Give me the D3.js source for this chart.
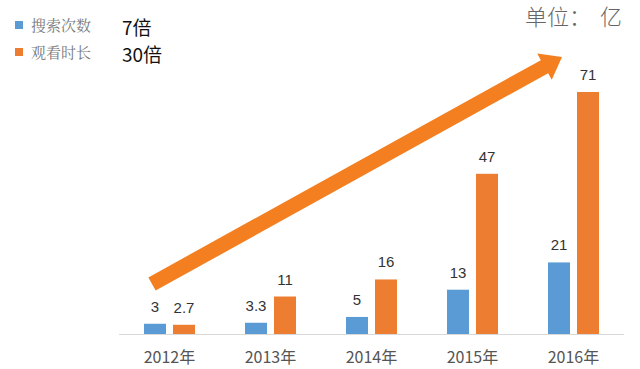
<!DOCTYPE html>
<html><head><meta charset="utf-8">
<script src="https://cdn.jsdelivr.net/npm/d3@7"></script>
<style>body{margin:0;background:#fff}svg{display:block}</style>
</head><body>
<svg id="c" width="640" height="369"></svg>
<script>
const categories = ["2012年","2013年","2014年","2015年","2016年"];
const searchCounts = [3, 3.3, 5, 13, 21];
const watchTime = [2.7, 11, 16, 47, 71];
const seriesNames = ["搜索次数","观看时长"];
const seriesNotes = ["7倍","30倍"];
const colors = ["#5a9bd5","#ed7d31"];

const svg = d3.select("#c");
const baseY = 334;
const x = d3.scaleBand().domain(categories).range([119, 624]).padding(0);
const y = d3.scaleLinear().domain([0, 71]).range([baseY, 92]);
const barW = 22, gap = 7;

svg.append("line").attr("x1",119).attr("x2",624).attr("y1",baseY+0.5).attr("y2",baseY+0.5)
  .attr("stroke","#d9d9d9").attr("stroke-width",1.2);

const font = "'Liberation Sans', Arial, 'Noto Sans CJK SC', sans-serif";
const cjk = "'Noto Sans CJK SC', sans-serif";

const series = [searchCounts, watchTime];
series.forEach((vals, si) => {
  const off = si === 0 ? -(barW + gap/2) : gap/2;
  const g = svg.append("g");
  g.selectAll("rect").data(vals).join("rect")
    .attr("x", (d,i) => x(categories[i]) + x.bandwidth()/2 + off)
    .attr("y", d => y(d))
    .attr("width", barW)
    .attr("height", d => baseY - y(d))
    .attr("fill", colors[si]);
  g.selectAll("text").data(vals).join("text")
    .attr("x", (d,i) => x(categories[i]) + x.bandwidth()/2 + off + barW/2)
    .attr("y", d => y(d) - 12)
    .attr("text-anchor","middle")
    .attr("font-family", font).attr("font-size", 15).attr("fill","#333")
    .text(d => d);
});

svg.append("g").selectAll("text").data(categories).join("text")
  .attr("x", d => x(d) + x.bandwidth()/2)
  .attr("y", 363)
  .attr("text-anchor","middle")
  .attr("font-family", cjk).attr("font-size", 16).attr("fill","#555")
  .text(d => d);

seriesNames.forEach((n, i) => {
  const ly = 28 + i*27;
  svg.append("rect").attr("x",15).attr("y",ly-7).attr("width",8).attr("height",8).attr("fill",colors[i]);
  svg.append("text").attr("x",31).attr("y",ly+3).attr("font-family","'Noto Serif CJK SC','Noto Sans CJK SC',serif")
    .attr("font-size",15).attr("fill","#7a7a7a").text(n);
  svg.append("text").attr("x",122).attr("y",ly+7).attr("font-family",cjk)
    .attr("font-size",19).attr("fill","#111").text(seriesNotes[i]);
});

const unit = svg.append("text").attr("x",525).attr("y",25)
  .attr("font-family",cjk).attr("font-weight",300).attr("font-size",22).attr("fill","#666");
unit.append("tspan").text("单位：");
unit.append("tspan").attr("dx",9).text("亿");

// trend arrow
const x0 = 152, y0 = 284, x1 = 562, y1 = 57;
const ang = Math.atan2(y1 - y0, x1 - x0);
const len = Math.hypot(x1 - x0, y1 - y0);
const sw = 7.5, hw = 15, hl = 20;
const pts = [[0,-sw],[len-hl,-sw],[len-hl,-hw],[len,0],[len-hl,hw],[len-hl,sw],[0,sw]];
svg.append("path")
  .attr("d", d3.line()(pts) + "Z")
  .attr("fill","#f47f20")
  .attr("transform",`translate(${x0},${y0}) rotate(${ang*180/Math.PI})`);
</script>
</body></html>
